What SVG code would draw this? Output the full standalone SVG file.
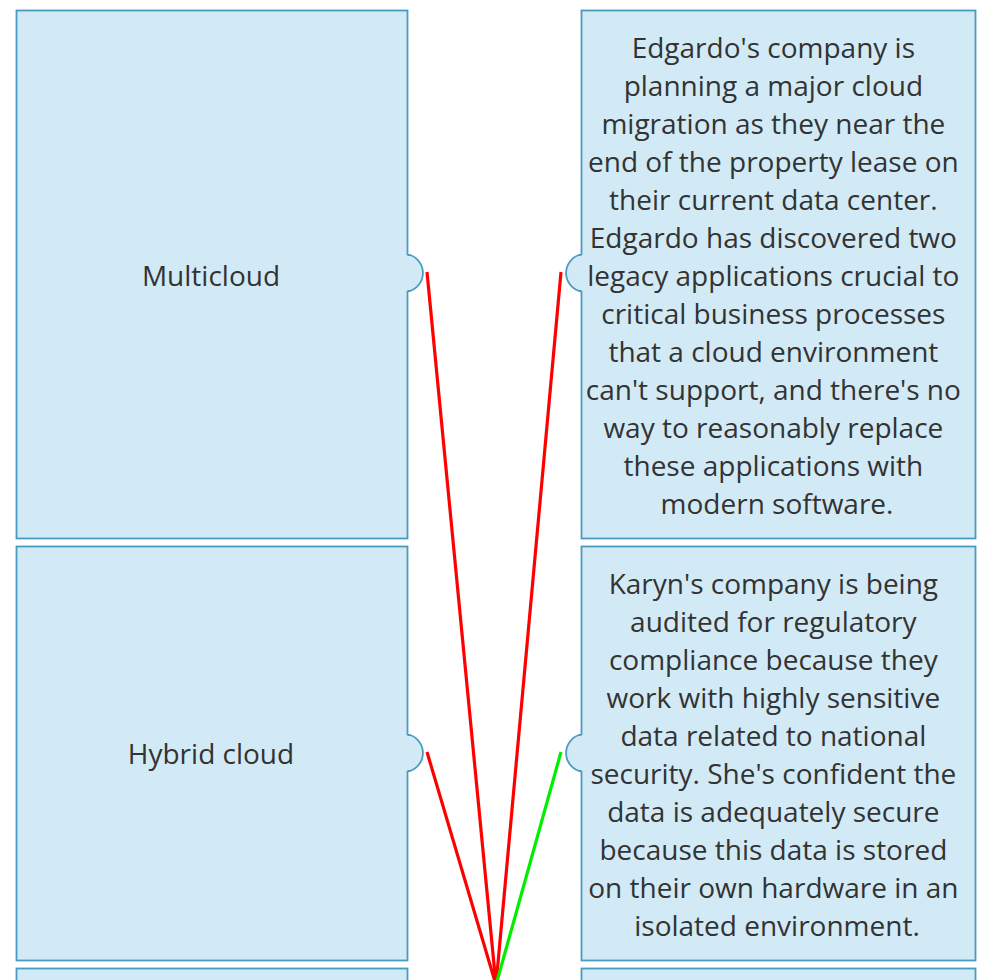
<svg xmlns="http://www.w3.org/2000/svg" width="998" height="980" viewBox="0 0 998 980">
<style>
.box{fill:#d2eaf6;stroke:#4a9bc0;stroke-width:1.8}
.kf{fill:#d2eaf6;stroke:none}
.ks{fill:none;stroke:#4a9bc0;stroke-width:1.8}
.t{font-family:"Open Sans","Noto Sans",sans-serif;font-size:28px;fill:#333;text-anchor:middle}
.r{stroke:#ff0000;stroke-width:3.2;fill:none}
.g{stroke:#00ee00;stroke-width:3.2;fill:none}
</style>
<rect width="998" height="980" fill="#fff"/>
<g id="left1">
<rect class="box" x="16.5" y="10.5" width="391" height="528"/>
<path class="kf" d="M405,255 H410 A19,19 0 0 1 410,291 H405 Z"/>
<path class="ks" d="M407.5,255 H410 A19,19 0 0 1 410,291 H407.5"/>
<text class="t" x="211" y="286">Multicloud</text>
</g>
<g id="right1">
<rect class="box" x="581.5" y="10.5" width="394" height="528"/>
<path class="kf" d="M584,255 H579 A19,19 0 0 0 579,291 H584 Z"/>
<path class="ks" d="M581.5,255 H579 A19,19 0 0 0 579,291 H581.5"/>
<text class="t" x="777">
<tspan x="777" y="58">Edgardo's company is</tspan>
<tspan x="777" y="96">planning a major cloud</tspan>
<tspan x="777" y="134">migration as they near the</tspan>
<tspan x="777" y="172">end of the property lease on</tspan>
<tspan x="777" y="210">their current data center.</tspan>
<tspan x="777" y="248">Edgardo has discovered two</tspan>
<tspan x="777" y="286">legacy applications crucial to</tspan>
<tspan x="777" y="324">critical business processes</tspan>
<tspan x="777" y="362">that a cloud environment</tspan>
<tspan x="777" y="400">can't support, and there's no</tspan>
<tspan x="777" y="438">way to reasonably replace</tspan>
<tspan x="777" y="476">these applications with</tspan>
<tspan x="777" y="514">modern software.</tspan>
</text>
</g>
<g id="left2">
<rect class="box" x="16.5" y="546.5" width="391" height="414"/>
<path class="kf" d="M405,735 H410 A19,19 0 0 1 410,771 H405 Z"/>
<path class="ks" d="M407.5,735 H410 A19,19 0 0 1 410,771 H407.5"/>
<text class="t" x="211" y="764">Hybrid cloud</text>
</g>
<g id="right2">
<rect class="box" x="581.5" y="546.5" width="394" height="414"/>
<path class="kf" d="M584,735 H579 A19,19 0 0 0 579,771 H584 Z"/>
<path class="ks" d="M581.5,735 H579 A19,19 0 0 0 579,771 H581.5"/>
<text class="t" x="777">
<tspan x="777" y="594">Karyn's company is being</tspan>
<tspan x="777" y="632">audited for regulatory</tspan>
<tspan x="777" y="670">compliance because they</tspan>
<tspan x="777" y="708">work with highly sensitive</tspan>
<tspan x="777" y="746">data related to national</tspan>
<tspan x="777" y="784">security. She's confident the</tspan>
<tspan x="777" y="822">data is adequately secure</tspan>
<tspan x="777" y="860">because this data is stored</tspan>
<tspan x="777" y="898">on their own hardware in an</tspan>
<tspan x="777" y="936">isolated environment.</tspan>
</text>
</g>
<g id="left3">
<rect class="box" x="16.5" y="968.5" width="391" height="60"/>
</g>
<g id="right3">
<rect class="box" x="581.5" y="968.5" width="394" height="60"/>
</g>
<g id="connectors">
<line class="r" x1="427" y1="272" x2="496" y2="985"/>
<line class="r" x1="561" y1="272" x2="496" y2="985"/>
<line class="r" x1="427" y1="752" x2="496" y2="985"/>
<line class="g" x1="561" y1="752" x2="496" y2="985"/>
</g>
</svg>
